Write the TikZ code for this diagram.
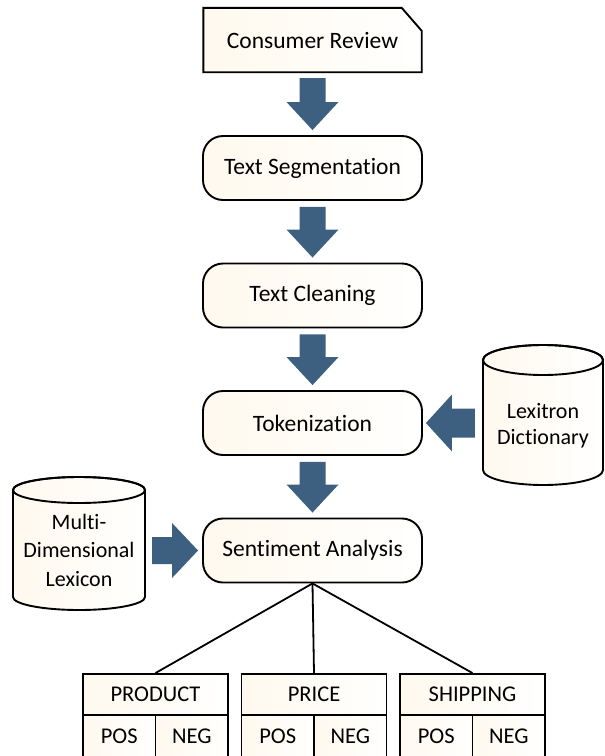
\documentclass[tikz,border=0pt]{standalone}
\usepackage{fontspec}
\setmainfont{Carlito}[Ligatures=NoCommon]
\usetikzlibrary{calc}

\definecolor{blkblue}{RGB}{61,96,128}
\definecolor{cream}{RGB}{255,249,238}

\pgfdeclarelayer{bg}
\pgfsetlayers{bg,main}

\tikzset{
  outline/.style={draw=black, line width=1.9pt},
  tint/.style={left color=cream, right color=white},
  stage/.style={outline, tint, rounded corners=20pt, minimum width=219pt,
    minimum height=64pt, inner sep=0pt, font=\fontsize{23.5}{28}\selectfont},
  docnode/.style={minimum width=218pt, minimum height=64pt, inner sep=0pt,
    font=\fontsize{23.5}{28}\selectfont},
  cyltext/.style={align=center, inner sep=0pt, font=\fontsize{22}{#1}\selectfont},
  cellhead/.style={outline, tint, minimum width=145pt, minimum height=41pt,
    inner sep=0pt, font=\fontsize{22.5}{27}\selectfont},
  cell/.style={outline, tint, minimum width=72.5pt, minimum height=42pt,
    inner sep=0pt, font=\fontsize{22.5}{27}\selectfont},
  tie/.style={draw=black, line width=1.8pt},
}

% block arrow pointing down, from the bottom of #1 to the top of #2
\newcommand\downblk[2]{%
  \fill[blkblue] ($(#1.south)+(-13,6)$) -- ($(#1.south)+(13,6)$)
    -- ($(#2.north)+(13,-33)$) -- ($(#2.north)+(26,-33)$)
    -- ($(#2.north)+(0,-5)$)
    -- ($(#2.north)+(-26,-33)$) -- ($(#2.north)+(-13,-33)$) -- cycle;}
% block arrow pointing left, from #1 into the east side of #2
\newcommand\leftblk[2]{%
  \fill[blkblue] ($(#1.west |- #2.east)+(-8,-14.5)$) -- ($(#1.west |- #2.east)+(-8,14.5)$)
    -- ($(#2.east)+(29,14.5)$) -- ($(#2.east)+(29,28.5)$)
    -- ($(#2.east)+(3,0)$)
    -- ($(#2.east)+(29,-28.5)$) -- ($(#2.east)+(29,-14.5)$) -- cycle;}
% block arrow pointing right, from #1 into the west side of #2
\newcommand\rightblk[2]{%
  \fill[blkblue] ($(#1.east |- #2.west)+(7,-13.5)$) -- ($(#1.east |- #2.west)+(7,13.5)$)
    -- ($(#2.west)+(-30,13.5)$) -- ($(#2.west)+(-30,27.5)$)
    -- ($(#2.west)+(-4,0)$)
    -- ($(#2.west)+(-30,-27.5)$) -- ($(#2.west)+(-30,-13.5)$) -- cycle;}
% cylinder around node #1: half width #2, top/bottom centre offsets #3/#4, end radius #5
\newcommand\drum[5]{%
  \begin{pgfonlayer}{bg}
  \path[outline, tint] ($(#1)+(-#2,#3)$) -- ($(#1)+(-#2,#4)$)
    arc[start angle=180, end angle=360, x radius=#2pt, y radius=#5pt]
    -- ($(#1)+(#2,#3)$)
    arc[start angle=0, end angle=180, x radius=#2pt, y radius=#5pt] -- cycle;
  \draw[outline] ($(#1)+(0,#3)$) ellipse[x radius=#2pt, y radius=#5pt];
  \end{pgfonlayer}}

\begin{document}
\begin{tikzpicture}[x=1pt, y=-1pt]
\useasboundingbox (0,0) rectangle (605,756);

% processing stages
\node[docnode] (cr) at (312.5,40) {Consumer Review};
\begin{pgfonlayer}{bg}
  \path[outline, tint] (cr.south west) -- (cr.north west)
    -- ($(cr.north east)+(-20,0)$) -- ($(cr.north east)+(0,23)$)
    -- (cr.south east) -- cycle;
\end{pgfonlayer}
\node[stage] (ts)  at (312.5,168)   {Text Segmentation};
\node[stage] (tc)  at (312.5,295.5) {Text Cleaning};
\node[stage] (tok) at (312.5,423)   {Tokenization};
\node[stage] (sa)  at (312.5,550.5) {Sentiment Analysis};

% lexicon sources
\node[cyltext=26, minimum width=120pt] (lex) at (543,426) {Lexitron\\Dictionary};
\drum{lex}{60}{-66}{44}{15}
\node[cyltext=28.5, minimum width=132pt] (mdl) at (79,550) {Multi-\\Dimensional\\Lexicon};
\drum{mdl}{66}{-60}{47}{13}

% flow arrows
\downblk{cr}{ts}
\downblk{ts}{tc}
\downblk{tc}{tok}
\downblk{tok}{sa}
\leftblk{lex}{tok}
\rightblk{mdl}{sa}

% aspect tables
\node[cellhead] (prod) at (155.5,694.5) {PRODUCT};
\node[cell] (prodpos) at (119.25,736) {POS};
\node[cell] (prodneg) at (191.75,736) {NEG};
\node[cellhead] (price) at (314,694.5) {PRICE};
\node[cell] (pricepos) at (277.75,736) {POS};
\node[cell] (priceneg) at (350.25,736) {NEG};
\node[cellhead] (ship) at (472.5,694.5) {SHIPPING};
\node[cell] (shippos) at (436.25,736) {POS};
\node[cell] (shipneg) at (508.75,736) {NEG};

\draw[tie] (sa.south) -- (prod.north);
\draw[tie] (sa.south) -- (price.north);
\draw[tie] (sa.south) -- (ship.north);
\end{tikzpicture}
\end{document}
